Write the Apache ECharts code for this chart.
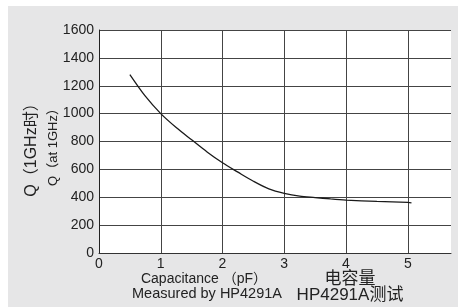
<!DOCTYPE html>
<html>
<head>
<meta charset="utf-8">
<script src="https://cdn.jsdelivr.net/npm/echarts@6/dist/echarts.min.js"></script>
<style>
  html, body { margin: 0; padding: 0; background: #fff; }
  #chart { width: 458px; height: 307px; }
</style>
</head>
<body>
<div id="chart"></div>
<script>
// Q vs capacitance
const capacitance = [0.5, 0.75, 1, 1.25, 1.5, 1.75, 2, 2.25, 2.5, 2.75, 3, 3.25, 3.5, 3.75, 4, 4.5, 5, 5.06]
const qValues = [1280, 1125, 1000, 900, 812, 725, 647, 580, 515, 460, 428, 408, 398, 388, 380, 370, 363, 360]

const yTitle = 'Q（1GHz时）'
const yTitleEn = 'Q（at 1GHz）'
const xTitleEn = ['Capacitance （pF）', 'Measured by HP4291A']
const xTitleCn = ['电容量', 'HP4291A测试']

const chart = echarts.init(document.getElementById('chart'))

const font = '"Liberation Sans", Arial, sans-serif'
const cjk = '"Liberation Sans", "Noto Sans CJK SC", sans-serif'

const title = (text, x, y, size, rotate) => ({
    type: 'text',
    x: x,
    y: y,
    rotation: rotate ? Math.PI / 2 : 0,
    style: {
        text: text,
        fontSize: size,
        fontFamily: cjk,
        fill: '#222',
        textAlign: 'center',
        textVerticalAlign: 'middle'
    }
})

const option = {
    animation: false,
    backgroundColor: '#e6e6e7',
    grid: {
        left: 99,
        top: 30,
        width: 352,
        height: 223,
        show: true,
        backgroundColor: '#fff',
        borderWidth: 0
    },
    xAxis: {
        type: 'value',
        min: 0,
        max: 5.7,
        interval: 1,
        axisLine: { show: true, lineStyle: { color: '#333', width: 1 } },
        axisTick: { show: false },
        axisLabel: {
            showMaxLabel: false,
            color: '#222',
            fontSize: 14,
            fontFamily: font,
            margin: 4,
            formatter: v => String(v)
        },
        splitLine: {
            show: true,
            showMaxLine: false,
            lineStyle: { color: '#444', width: 1 }
        }
    },
    yAxis: {
        type: 'value',
        min: 0,
        max: 1600,
        interval: 200,
        axisLine: { show: true, lineStyle: { color: '#222', width: 1 } },
        axisTick: { show: false },
        axisLabel: {
            color: '#222',
            fontSize: 14,
            fontFamily: font,
            margin: 5,
            formatter: v => String(v)
        },
        splitLine: {
            show: true,
            lineStyle: { color: '#444', width: 1 }
        }
    },
    graphic: [
        // white strips outside the grey panel
        { type: 'rect', shape: { x: 0, y: 0, width: 458, height: 6 }, style: { fill: '#fff' }, silent: true },
        { type: 'rect', shape: { x: 0, y: 0, width: 8, height: 307 }, style: { fill: '#fff' }, silent: true },
        title(yTitle, 32, 146, 16, true),
        title(yTitleEn, 53, 144, 13, true),
        title(xTitleEn[0], 204, 279, 14, false),
        title(xTitleEn[1], 207, 294, 14.5, false),
        title(xTitleCn[0], 350, 279, 17, false),
        title(xTitleCn[1], 350, 295, 17, false)
    ],
    series: [
        {
            type: 'line',
            data: capacitance.map((c, i) => [c, qValues[i]]),
            smooth: 0.3,
            showSymbol: false,
            lineStyle: { color: '#1a1a1a', width: 1.3 }
        }
    ]
}

chart.setOption(option)
</script>
</body>
</html>
